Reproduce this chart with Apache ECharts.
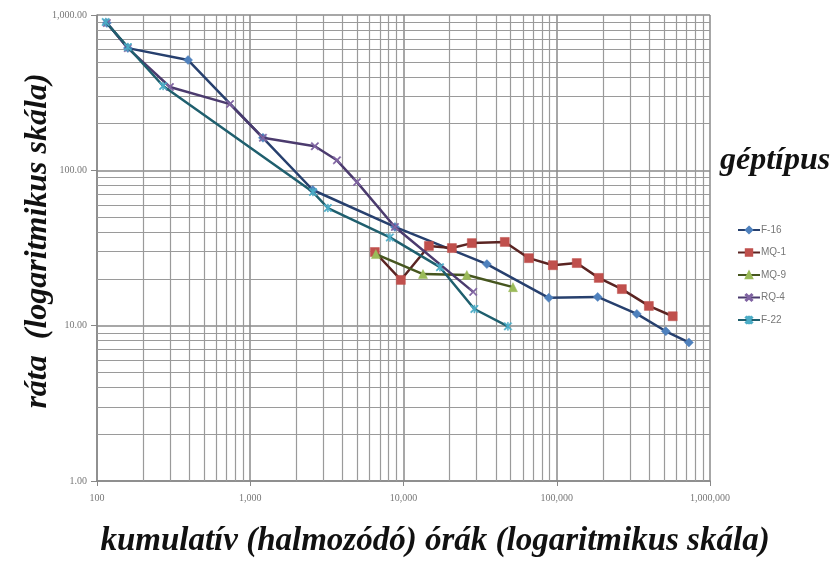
<!DOCTYPE html>
<html>
<head>
<meta charset="utf-8">
<script src="https://cdn.jsdelivr.net/npm/echarts@6/dist/echarts.min.js"></script>
<style>html,body{margin:0;padding:0;background:#fff;}#c{width:839px;height:562px;}</style>
</head>
<body>
<div id="c"></div>
<script>
// ---- data ----
const seriesNames = ['F-16', 'MQ-1', 'MQ-9', 'RQ-4', 'F-22'];
const f16X = [116, 159, 393, 1210, 2560, 8790, 35000, 88700, 185000, 333000, 515000, 728000];
const f16Y = [888, 612, 513, 162, 74.7, 43.2, 24.9, 15.1, 15.3, 11.9, 9.2, 7.8];
const mq1X = [6500, 9610, 14650, 20700, 27900, 45800, 65800, 94400, 135000, 188000, 266000, 399000, 571000];
const mq1Y = [29.8, 19.7, 32.6, 31.6, 34, 34.6, 27.2, 24.5, 25.3, 20.3, 17.2, 13.4, 11.5];
const mq9X = [6600, 13400, 25900, 51800];
const mq9Y = [28.9, 21.5, 21.2, 17.7];
const rq4X = [116, 159, 299, 738, 1210, 2640, 3680, 4970, 8790, 28500];
const rq4Y = [888, 612, 344, 267, 162, 143, 116, 84, 43.2, 16.5];
const f22X = [114, 159, 270, 2565, 3210, 8150, 17300, 29000, 48000];
const f22Y = [901, 622, 349, 72.5, 57.2, 37, 23.8, 12.8, 9.9];
const xTicks = [100, 1000, 10000, 100000, 1000000];
const yTicks = [1, 10, 100, 1000];
const xTitle = 'kumulatív (halmozódó) órák (logaritmikus skála)';
const yTitle = 'ráta  (logaritmikus skála)';
const legendTitle = 'géptípus';

// ---- helpers ----
const pairs = (xs, ys) => xs.map((x, i) => [x, ys[i]]);
const minorVals = (lo, hi) => {
  const out = [];
  for (let d = lo; d < hi; d *= 10) for (let k = 2; k <= 9; k++) out.push(d * k);
  return out;
};
const xMinor = minorVals(100, 1000000);
const yMinor = minorVals(1, 1000);

const xSym = 'path://M0,1.2L1.2,0L5,3.8L8.8,0L10,1.2L6.2,5L10,8.8L8.8,10L5,6.2L1.2,10L0,8.8L3.8,5Z';
const starSym = 'path://M0,1.2L1.2,0L5,3.8L8.8,0L10,1.2L6.2,5L10,8.8L8.8,10L5,6.2L1.2,10L0,8.8L3.8,5Z M4.4,0L5.6,0L5.6,10L4.4,10Z';

const styles = [
  {line: '#27406e', fill: '#4f81bd', sym: 'diamond', size: 9},
  {line: '#5a2422', fill: '#c0504d', sym: 'rect', size: 9},
  {line: '#46561f', fill: '#9bbb59', sym: 'triangle', size: 9},
  {line: '#4b3b6e', fill: '#8064a2', sym: xSym, size: 8},
  {line: '#1f5f6e', fill: '#4bacc6', sym: starSym, size: 8}
];
const datas = [pairs(f16X, f16Y), pairs(mq1X, mq1Y), pairs(mq9X, mq9Y), pairs(rq4X, rq4Y), pairs(f22X, f22Y)];

const gridColor = '#9a9a9a';
const series = [];
// minor grid lines drawn through the axes' own scales
series.push({
  type: 'line', data: [], silent: true, z: 1,
  markLine: {
    silent: true, symbol: ['none', 'none'], label: {show: false},
    lineStyle: {color: gridColor, width: 1.2, type: 'solid'},
    data: xMinor.map(v => ({xAxis: v})).concat(yMinor.map(v => ({yAxis: v})))
  }
});
seriesNames.forEach((n, i) => {
  const s = styles[i];
  series.push({
    name: n, type: 'line', data: datas[i], z: 5 + i,
    symbol: s.sym, symbolSize: s.size, showAllSymbol: true,
    lineStyle: {color: s.line, width: 2.5},
    itemStyle: {color: s.fill, borderColor: s.fill, borderWidth: 0.5}
  });
});

const chart = echarts.init(document.getElementById('c'));
chart.setOption({
  animation: false,
  backgroundColor: '#fff',
  grid: {left: 97, right: 129, top: 15, bottom: 81, containLabel: false},
  xAxis: {
    type: 'log', logBase: 10, min: xTicks[0], max: xTicks[xTicks.length - 1],
    axisLine: {show: true, lineStyle: {color: '#888', width: 1.5}},
    axisTick: {show: true, length: 5, lineStyle: {color: '#888'}},
    axisLabel: {color: '#777', fontSize: 10, fontFamily: 'Liberation Serif', margin: 12,
      formatter: v => Number(v).toLocaleString('en-US')},
    splitLine: {show: true, lineStyle: {color: '#8a8a8a', width: 1.5}}
  },
  yAxis: {
    type: 'log', logBase: 10, min: yTicks[0], max: yTicks[yTicks.length - 1],
    axisLine: {show: true, lineStyle: {color: '#888', width: 1.5}},
    axisTick: {show: true, length: 6, lineStyle: {color: '#888'}},
    axisLabel: {color: '#777', fontSize: 10, fontFamily: 'Liberation Serif', margin: 10,
      formatter: v => Number(v).toLocaleString('en-US', {minimumFractionDigits: 2, maximumFractionDigits: 2})},
    splitLine: {show: true, lineStyle: {color: '#8a8a8a', width: 1.5}}
  },
  legend: {
    orient: 'vertical', left: 732, top: 220, itemGap: 12.5, itemWidth: 22, itemHeight: 8,
    data: seriesNames,
    textStyle: {color: '#777', fontSize: 10, fontFamily: 'Liberation Sans', padding: [0, 0, 0, -4]}
  },
  graphic: [
    {type: 'text', left: 720, top: 145, style: {text: legendTitle, fill: '#111',
      font: 'italic bold 32px "Liberation Serif"'}},
    {type: 'text', x: 435, y: 541, style: {text: xTitle, fill: '#111', align: 'center', verticalAlign: 'middle',
      font: 'italic bold 33px "Liberation Serif"'}},
    {type: 'text', x: 38, y: 241, rotation: Math.PI / 2, style: {text: yTitle, fill: '#111',
      font: 'italic bold 32px "Liberation Serif"', align: 'center', verticalAlign: 'middle'}}
  ],
  series: series
});
</script>
</body>
</html>
